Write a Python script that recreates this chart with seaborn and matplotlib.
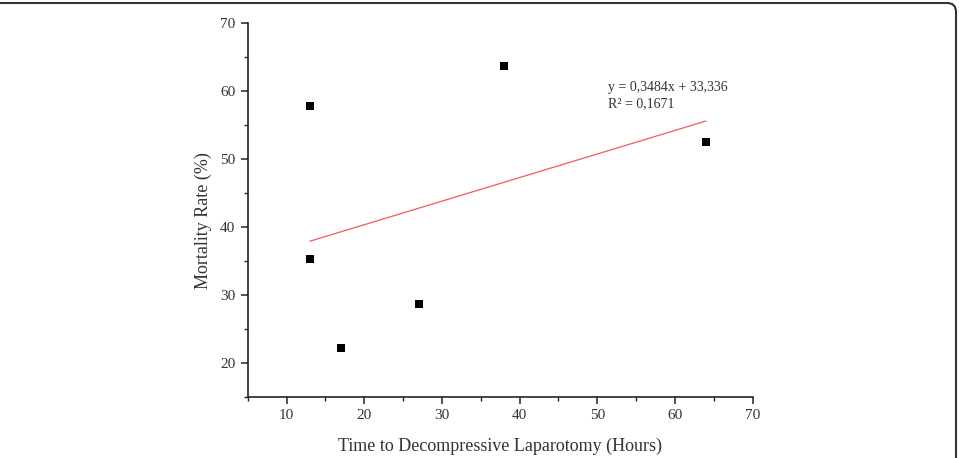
import numpy as np
import pandas as pd
import seaborn as sns
import matplotlib
matplotlib.use('Agg')
import matplotlib.pyplot as plt
from matplotlib.ticker import AutoMinorLocator
from matplotlib.patches import FancyBboxPatch
from matplotlib.transforms import IdentityTransform

# values
hours = [13, 13, 17, 27, 38, 64]
mortality = [57.7, 35.3, 22.2, 28.6, 63.6, 52.4]
fit_text = ['y = 0,3484x + 33,336', 'R\u00b2 = 0,1671']
x_ticks = [10, 20, 30, 40, 50, 60, 70]
y_ticks = [20, 30, 40, 50, 60, 70]

df = pd.DataFrame({'hours': hours, 'mortality': mortality})

sns.set_style('ticks')
plt.rcParams['font.family'] = ['Liberation Serif', 'DejaVu Serif']

fig = plt.figure(figsize=(9.59, 4.58), dpi=100)
ax = fig.add_axes([0.2583, 0.1338, 0.5266, 0.8166])

# trend line first, squares on top
sns.regplot(data=df, x='hours', y='mortality', scatter=False, ci=None,
            truncate=True, color='#f05a5a', line_kws={'lw': 0.9}, ax=ax)
sns.scatterplot(data=df, x='hours', y='mortality', marker='s', s=32,
                color='black', linewidth=0, ax=ax, zorder=3)

ax.set_xlim(5, 70)
ax.set_ylim(15, 70)
ax.set_xticks(x_ticks)
ax.set_yticks(y_ticks)
ax.xaxis.set_minor_locator(AutoMinorLocator(2))
ax.yaxis.set_minor_locator(AutoMinorLocator(2))

for side in ['top', 'right']:
    ax.spines[side].set_visible(False)
for side in ['left', 'bottom']:
    ax.spines[side].set_linewidth(1.2)
    ax.spines[side].set_color('#222222')

ax.tick_params(which='major', length=5, width=1.1, color='#222222',
               labelsize=11, labelcolor='#333333', pad=4)
ax.tick_params(which='minor', length=2.6, width=1.0, color='#222222')

ax.set_xlabel('Time to Decompressive Laparotomy (Hours)', fontsize=13,
              color='#333333', labelpad=11)
ax.set_ylabel('Mortality Rate (%)', fontsize=13, color='#333333')
ax.yaxis.set_label_coords(-0.071, 0.47)

ax.text(0.7135, 0.843, fit_text[0] + '\n' + fit_text[1], transform=ax.transAxes,
        fontsize=10, color='#333333', va='top', ha='left', linespacing=1.25)

# rounded frame round the figure (only top and right edges show)
frame = FancyBboxPatch((-30, -30), 986, 485,
                       boxstyle='round,pad=0,rounding_size=9',
                       transform=IdentityTransform(), fill=False,
                       edgecolor='#333333', linewidth=1.5)
fig.add_artist(frame)

fig.savefig('out.png', dpi=100)
